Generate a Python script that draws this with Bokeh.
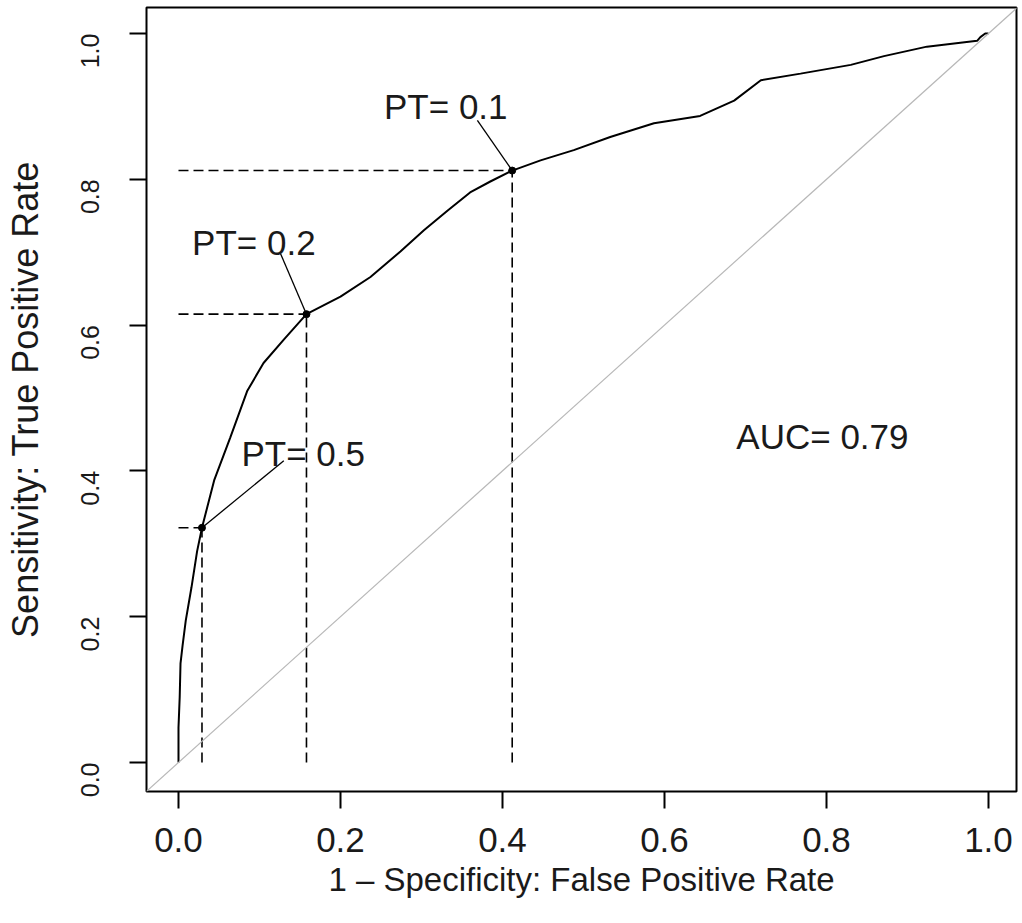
from bokeh.plotting import figure
from bokeh.models import Range1d, FixedTicker, Slope, ColumnDataSource
from bokeh.embed import file_html
from bokeh.resources import INLINE
from bokeh.core.properties import value

# ROC curve (1 - specificity, sensitivity)
fpr = [0.0, 0.0, 0.0015, 0.0025, 0.005, 0.009, 0.016, 0.023, 0.029,
       0.044, 0.064, 0.085, 0.105, 0.130, 0.158,
       0.200, 0.237, 0.274, 0.303, 0.332, 0.360, 0.385, 0.412,
       0.447, 0.488, 0.533, 0.587, 0.644, 0.686, 0.719, 0.768,
       0.830, 0.871, 0.924, 0.986, 0.990, 0.996, 1.0]
tpr = [0.0, 0.048, 0.090, 0.136, 0.160, 0.195, 0.240, 0.290, 0.322,
       0.387, 0.446, 0.510, 0.548, 0.580, 0.615,
       0.639, 0.666, 0.701, 0.730, 0.757, 0.782, 0.797, 0.812,
       0.826, 0.840, 0.858, 0.877, 0.887, 0.908, 0.936, 0.945,
       0.957, 0.969, 0.982, 0.990, 0.995, 1.0, 1.0]

# probability thresholds marked on the curve
pt_labels = ["PT= 0.5", "PT= 0.2", "PT= 0.1"]
pt_fpr = [0.029, 0.158, 0.412]
pt_tpr = [0.322, 0.615, 0.812]
label_x = [0.154, 0.093, 0.330]
label_y = [0.424, 0.713, 0.900]
leader_x = [0.130, 0.126, 0.369]
leader_y = [0.414, 0.698, 0.881]

auc_text = "AUC= 0.79"
auc_x = [0.795]
auc_y = [0.447]

ticks = [0.0, 0.2, 0.4, 0.6, 0.8, 1.0]
tick_labels = ["0.0", "0.2", "0.4", "0.6", "0.8", "1.0"]

FONT = "Liberation Sans"
TXT = "#1a1a1a"

p = figure(width=1020, height=920, output_backend="svg", toolbar_location=None,
           x_range=Range1d(-0.0395, 1.0346), y_range=Range1d(-0.0398, 1.0357),
           min_border_left=146, min_border_right=4, min_border_top=7, min_border_bottom=129,
           x_axis_label="1 \u2013 Specificity: False Positive Rate",
           y_axis_label="Sensitivity: True Positive Rate")

p.grid.visible = False
p.outline_line_color = "black"
p.outline_line_width = 2
p.background_fill_color = "white"
p.border_fill_color = "white"

for ax in (p.xaxis[0], p.yaxis[0]):
    ax.ticker = FixedTicker(ticks=ticks)
    ax.major_label_overrides = {t: l for t, l in zip(ticks, tick_labels)}
    ax.axis_line_color = None
    ax.major_tick_out = 17
    ax.major_tick_in = 0
    ax.major_tick_line_width = 2
    ax.major_tick_line_color = "black"
    ax.minor_tick_line_color = None
    ax.major_label_text_font = FONT
    ax.major_label_text_color = TXT
    ax.axis_label_text_font = FONT
    ax.axis_label_text_font_style = "normal"
    ax.axis_label_text_color = TXT

p.xaxis.axis_label_text_font_size = "33px"
p.xaxis.major_label_text_font_size = "35px"
p.xaxis.major_label_standoff = 19
p.xaxis.axis_label_standoff = 6
p.yaxis.axis_label_text_font_size = "36px"
p.yaxis.major_label_text_font_size = "25px"
p.yaxis.major_label_orientation = 1.5708
p.yaxis.major_label_standoff = 39
p.yaxis.axis_label_standoff = 24

# chance diagonal
p.add_layout(Slope(gradient=1, y_intercept=0, line_color="#b8b8b8", line_width=1.2))

# ROC curve
p.line(fpr, tpr, line_color="black", line_width=2)

pts = ColumnDataSource(dict(x=pt_fpr, y=pt_tpr, zero=[0.0] * len(pt_fpr),
                            lx=leader_x, ly=leader_y, tx=label_x, ty=label_y, t=pt_labels))
# dashed reference lines
p.segment(x0="zero", y0="y", x1="x", y1="y", source=pts, line_color="black",
          line_width=1.6, line_dash="10 5")
p.segment(x0="x", y0="zero", x1="x", y1="y", source=pts, line_color="black",
          line_width=1.6, line_dash="10 5")
# leader lines
p.segment(x0="lx", y0="ly", x1="x", y1="y", source=pts, line_color="black", line_width=1.3)
p.scatter(x="x", y="y", source=pts, size=7, color="black")
p.text(x="tx", y="ty", text="t", source=pts, text_font=value(FONT), text_font_size="35px",
       text_align="center", text_baseline="alphabetic", text_color=TXT)

p.text(x=auc_x, y=auc_y, text=[auc_text], text_font=value(FONT), text_font_size="35px",
       text_align="center", text_baseline="alphabetic", text_color=TXT)

open("out.html", "w").write(file_html(p, INLINE))
